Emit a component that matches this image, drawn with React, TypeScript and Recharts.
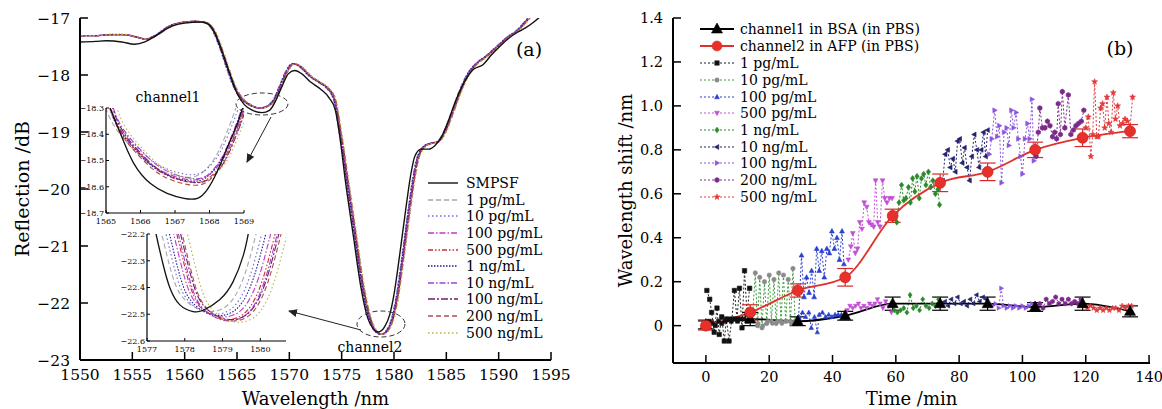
import { ErrorBar, Legend, Line, LineChart, XAxis, YAxis } from 'recharts'

const FONT = '"DejaVu Serif", "Liberation Serif", serif'

type Pt = [number, number]

// ---------------- panel (a): reflection spectra ----------------
const spectraNames = ['SMPSF', '1 pg/mL', '10 pg/mL', '100 pg/mL', '500 pg/mL', '1 ng/mL', '10 ng/mL', '100 ng/mL', '200 ng/mL', '500 ng/mL']

// bare fibre (SMPSF), wavelength nm / reflection dB
const smpsfSpectrum: Pt[] = [
  [1550, -17.42], [1551.5, -17.41], [1552.5, -17.4], [1554, -17.42], [1555.2, -17.46], [1556.2, -17.42],
  [1557, -17.34], [1558, -17.22], [1559, -17.13], [1560, -17.09], [1561.5, -17.07], [1562.3, -17.11],
  [1562.9, -17.27], [1563.6, -17.6], [1564.3, -17.97], [1565, -18.32], [1565.7, -18.52], [1566.5, -18.62],
  [1567.4, -18.66], [1568.1, -18.62], [1568.7, -18.45], [1569.3, -18.2], [1569.9, -17.98], [1570.5, -17.92],
  [1571.2, -17.98], [1572, -18.12], [1573, -18.25], [1573.8, -18.4], [1574.4, -18.62], [1574.8, -19.05],
  [1575.4, -19.92], [1576.1, -20.8], [1576.8, -21.68], [1577.5, -22.27], [1578, -22.45], [1578.5, -22.51],
  [1579.1, -22.42], [1579.6, -22.2], [1580, -21.85], [1580.4, -21.35], [1580.8, -20.8], [1581.2, -20.25],
  [1581.6, -19.75], [1582, -19.42], [1582.6, -19.3], [1583.3, -19.3], [1583.9, -19.24], [1584.5, -19.1],
  [1585.1, -18.85], [1585.9, -18.45], [1586.8, -18.1], [1587.6, -17.9], [1588.5, -17.82], [1589.3, -17.65],
  [1590.1, -17.5], [1591, -17.35], [1591.8, -17.25], [1592.6, -17.17], [1593.3, -17.08], [1594, -16.97],
]

// functionalised sensor spectrum (all concentration curves share this shape)
const sensorSpectrum: Pt[] = [
  [1550, -17.31], [1551.5, -17.31], [1553, -17.29], [1554.2, -17.29], [1555.3, -17.33], [1556.3, -17.37],
  [1557.3, -17.3], [1558.5, -17.15], [1559.7, -17.08], [1561, -17.06], [1562, -17.08], [1562.7, -17.2],
  [1563.4, -17.5], [1564.1, -17.88], [1564.8, -18.22], [1565.5, -18.42], [1566.3, -18.53], [1567.2, -18.58],
  [1568, -18.54], [1568.6, -18.42], [1569.2, -18.17], [1569.8, -17.92], [1570.4, -17.8], [1571.1, -17.86],
  [1572, -18.02], [1572.9, -18.13], [1573.7, -18.24], [1574.3, -18.42], [1574.9, -19.04], [1575.6, -19.92],
  [1576.3, -20.8], [1577, -21.68], [1577.7, -22.27], [1578.2, -22.48], [1578.8, -22.55], [1579.4, -22.47],
  [1579.9, -22.25], [1580.3, -21.9], [1580.7, -21.4], [1581.1, -20.85], [1581.5, -20.3], [1581.9, -19.8],
  [1582.3, -19.45], [1582.8, -19.27], [1583.5, -19.2], [1584.2, -19.17], [1584.9, -18.98], [1585.5, -18.7],
  [1586.3, -18.3], [1587.1, -17.98], [1587.9, -17.8], [1588.9, -17.66], [1590, -17.48], [1591, -17.32],
  [1591.8, -17.22], [1592.5, -17.08], [1593.1, -16.96],
]

// wavelength shift of each concentration curve (nm), main plot
const concShiftMain = [-0.12, -0.08, -0.04, 0, -0.06, 0.03, 0.06, 0.09, 0.14]

// channel1 inset
const ch1InsetSmpsf: Pt[] = [
  [1565, -18.25], [1565.12, -18.3], [1565.41, -18.395], [1565.8, -18.51], [1566.28, -18.587], [1566.77, -18.625],
  [1567.26, -18.644], [1567.65, -18.644], [1567.94, -18.61], [1568.23, -18.54], [1568.52, -18.45],
  [1568.81, -18.36], [1568.96, -18.3], [1569.05, -18.26],
]
const ch1InsetSensor: Pt[] = [
  [1564.95, -18.22], [1565.2, -18.33], [1565.5, -18.4], [1565.8, -18.447], [1566.28, -18.51], [1566.77, -18.55],
  [1567.26, -18.57], [1567.75, -18.57], [1568.14, -18.53], [1568.43, -18.47], [1568.72, -18.38],
  [1568.91, -18.31], [1569.05, -18.24],
]
const ch1InsetDx = [-0.15, -0.05, 0.0, 0.05, 0.0, 0.08, 0.1, 0.05, 0.2]
const ch1InsetDy = [0.01, 0.02, 0.0, -0.01, -0.005, 0.005, -0.01, -0.02, 0.0]

// channel2 inset
const ch2InsetSmpsf: Pt[] = [
  [1577.18, -22.15], [1577.24, -22.2], [1577.43, -22.316], [1577.61, -22.403], [1577.87, -22.465],
  [1578.22, -22.49], [1578.49, -22.485], [1578.93, -22.445], [1579.28, -22.378], [1579.55, -22.28],
  [1579.68, -22.2], [1579.75, -22.15],
]
const ch2InsetSensor: Pt[] = [
  [1577.7, -22.15], [1577.79, -22.2], [1578.05, -22.35], [1578.31, -22.45], [1578.67, -22.5], [1579.1, -22.52],
  [1579.55, -22.5], [1579.9, -22.43], [1580.17, -22.32], [1580.39, -22.2], [1580.5, -22.14],
]
const ch2InsetDx = [-0.45, -0.32, -0.1, 0.0, -0.22, 0.05, 0.1, 0.15, 0.3]
const ch2InsetDy = [0.03, 0.02, 0.01, 0.0, 0.015, -0.005, 0.0, -0.005, -0.01]

const waveTicks = [1550, 1555, 1560, 1565, 1570, 1575, 1580, 1585, 1590, 1595]
const reflTicks = [-23, -22, -21, -20, -19, -18, -17]
const ch1WaveTicks = [1565, 1566, 1567, 1568, 1569]
const ch1ReflTicks = [-18.7, -18.6, -18.5, -18.4, -18.3]
const ch2WaveTicks = [1577, 1578, 1579, 1580]
const ch2ReflTicks = [-22.6, -22.5, -22.4, -22.3, -22.2]

const spectraStyle = [
  { color: '#111111', dash: undefined as string | undefined, width: 1.4 },
  { color: '#a8a8a8', dash: '5 3', width: 1.2 },
  { color: '#6b6bd6', dash: '1.5 2.5', width: 1.3 },
  { color: '#c23ac4', dash: '6 2 1.5 2', width: 1.2 },
  { color: '#d12a2a', dash: '5 2 1.5 2 1.5 2', width: 1.2 },
  { color: '#1f1f95', dash: '1.5 1.5', width: 1.4 },
  { color: '#9a44d2', dash: '6 2 1.5 2', width: 1.2 },
  { color: '#6e1d72', dash: '7 2 2 2', width: 1.2 },
  { color: '#b24c4c', dash: '5 3', width: 1.2 },
  { color: '#b9b247', dash: '1.5 2.5', width: 1.3 },
]

// ---------------- panel (b): wavelength shift vs time ----------------
const times = [0, 14, 29, 44, 59, 74, 89, 104, 119, 134]
const bsaShift = [0.005, 0.03, 0.02, 0.045, 0.1, 0.1, 0.1, 0.085, 0.1, 0.065]
const bsaErr = [0.02, 0.03, 0.02, 0.02, 0.03, 0.03, 0.03, 0.02, 0.03, 0.025]
const afpShift = [0.0, 0.06, 0.16, 0.22, 0.5, 0.65, 0.7, 0.8, 0.855, 0.885]
const afpErr = [0.02, 0.035, 0.03, 0.04, 0.03, 0.04, 0.04, 0.035, 0.04, 0.03]

const concNames = ['1 pg/mL', '10 pg/mL', '100 pg/mL', '500 pg/mL', '1 ng/mL', '10 ng/mL', '100 ng/mL', '200 ng/mL', '500 ng/mL']

// channel2 responses while each concentration flows (min, nm)
const resp1pg: Pt[] = [[0.3, 0.16], [1.2, 0.12], [1.8, 0.06], [2.6, -0.03], [3.5, 0.08], [4.2, -0.04], [5, 0.04], [5.8, -0.07], [6.5, 0.03], [7.3, -0.07], [8.2, 0.03], [9, 0.16], [9.8, 0.03], [10.6, 0.17], [11.4, -0.01], [12.2, 0.25], [13, 0.05], [13.8, 0.17]]
const resp10pg: Pt[] = [[14.8, 0.06], [15.6, 0.24], [16.3, 0.0], [17, 0.22], [17.7, -0.01], [18.5, 0.2], [19.2, 0.01], [20, 0.23], [20.7, 0.02], [21.5, 0.21], [22.2, 0.01], [23, 0.24], [23.7, 0.02], [24.5, 0.23], [25.2, 0.02], [26, 0.21], [26.7, 0.02], [27.5, 0.26], [28.2, 0.02]]
const resp100pg: Pt[] = [[29.3, 0.04], [30.2, 0.32], [31, 0.13], [31.8, 0.22], [32.6, 0.15], [33.4, 0.25], [34.2, 0.13], [35, 0.35], [35.8, 0.25], [36.6, 0.34], [37.4, 0.22], [38.2, 0.35], [39, 0.33], [39.8, 0.43], [40.6, 0.35], [41.4, 0.4], [42.2, 0.3], [43, 0.43], [43.6, 0.28]]
const resp500pg: Pt[] = [[45, 0.3], [45.8, 0.36], [46.4, 0.42], [47.2, 0.33], [47.9, 0.35], [48.6, 0.47], [49.3, 0.44], [50, 0.56], [50.8, 0.54], [51.5, 0.47], [52.2, 0.46], [53, 0.45], [53.6, 0.66], [54.3, 0.47], [55, 0.45], [55.8, 0.66], [56.5, 0.58], [57.2, 0.56], [58, 0.58], [58.8, 0.58]]
const resp1ng: Pt[] = [[59.5, 0.5], [60.3, 0.47], [61, 0.56], [61.8, 0.64], [62.5, 0.57], [63.2, 0.58], [64, 0.63], [64.6, 0.56], [65.3, 0.67], [66, 0.61], [66.7, 0.68], [67.4, 0.58], [68.1, 0.67], [68.8, 0.69], [69.5, 0.64], [70.3, 0.7], [71, 0.63], [71.7, 0.66], [72.5, 0.6], [73.3, 0.62], [73.8, 0.55]]
const resp10ng: Pt[] = [[74.8, 0.66], [75.6, 0.78], [76.4, 0.8], [77.2, 0.72], [78, 0.76], [78.8, 0.7], [79.5, 0.84], [80.2, 0.85], [81, 0.74], [81.7, 0.81], [82.5, 0.72], [83.3, 0.66], [84, 0.77], [84.8, 0.87], [85.6, 0.8], [86.3, 0.72], [87, 0.8], [87.7, 0.88], [88.4, 0.77], [89, 0.89]]
const resp100ng: Pt[] = [[89.5, 0.78], [90.3, 0.85], [91.2, 0.98], [92, 0.86], [92.7, 0.91], [93.4, 0.65], [94.2, 0.88], [95, 0.9], [95.7, 0.82], [96.5, 0.98], [97.2, 0.9], [98, 0.97], [98.7, 0.85], [99.4, 0.77], [100, 0.69], [100.8, 0.85], [101.6, 0.92], [102.3, 0.85], [103, 1.03], [103.6, 0.75]]
const resp200ng: Pt[] = [[104.3, 0.77], [105, 0.88], [105.5, 0.99], [106.3, 0.9], [107.1, 0.9], [107.9, 0.93], [108.7, 0.91], [109.5, 0.86], [110.2, 0.88], [110.8, 0.85], [111.3, 1.01], [112, 0.87], [112.6, 1.065], [113.4, 0.9], [114.5, 1.05], [115.3, 0.87], [116.1, 0.89], [116.9, 0.91], [117.7, 0.92], [118.6, 0.93], [119.4, 0.98]]
const resp500ng: Pt[] = [[120, 0.9], [120.8, 0.95], [121.6, 0.77], [122.2, 0.87], [122.8, 1.11], [123.5, 0.86], [124, 0.86], [124.7, 0.99], [125.3, 1.01], [126, 0.9], [126.7, 1.04], [127.3, 0.92], [128, 0.88], [128.7, 1.06], [129.4, 0.94], [130.1, 1.0], [130.8, 0.91], [131.6, 0.92], [132.4, 0.94], [133.2, 0.93], [134, 0.9], [134.8, 1.04]]

// channel1 (reference) readings during the same injections
const ref1pg: Pt[] = [[0, 0.0], [1, 0.02], [2, 0.01], [3, 0.0], [4, 0.02], [5, 0.01], [6, 0.02], [7, 0.03], [8, 0.02], [9, 0.03], [10, 0.02], [11, 0.03], [12, 0.03], [13, 0.02], [14, 0.03]]
const ref10pg: Pt[] = [[15, 0.02], [16.5, 0.01], [18, 0.0], [19.5, 0.02], [21, 0.01], [22.5, 0.02], [24, 0.01], [25.5, 0.02], [27, 0.01], [28.5, 0.02]]
const ref100pg: Pt[] = [[29.5, 0.03], [30.5, 0.06], [31.5, 0.04], [32.5, 0.06], [33.3, -0.01], [34.3, 0.04], [35.2, -0.03], [35.8, 0.05], [36.8, 0.06], [37.8, 0.04], [38.8, 0.05], [39.8, 0.04], [40.8, 0.05], [41.8, 0.05], [42.8, 0.05], [43.6, 0.04]]
const ref500pg: Pt[] = [[44.6, 0.07], [45.5, 0.09], [46.4, 0.08], [47.3, 0.09], [48.2, 0.1], [49, 0.08], [49.9, 0.09], [50.8, 0.08], [51.7, 0.1], [52.6, 0.09], [53.4, 0.1], [54.2, 0.12], [55, 0.1], [55.9, 0.08], [56.8, 0.11], [57.7, 0.09], [58.6, 0.06]]
const ref1ng: Pt[] = [[59.5, 0.07], [60.5, 0.06], [61.5, 0.07], [62.5, 0.08], [63.5, 0.06], [64.5, 0.14], [65.5, 0.08], [66.5, 0.09], [67.5, 0.07], [68.5, 0.12], [69.5, 0.09], [70.5, 0.08], [71.5, 0.1], [72.5, 0.09], [73.5, 0.12]]
const ref10ng: Pt[] = [[74.5, 0.1], [75.5, 0.11], [76.5, 0.09], [77.5, 0.12], [78.5, 0.1], [79.5, 0.13], [80.5, 0.1], [81.5, 0.11], [82.5, 0.09], [83.5, 0.12], [84.5, 0.1], [85.5, 0.14], [86.5, 0.11], [87.5, 0.13], [88.5, 0.12]]
const ref100ng: Pt[] = [[89.5, 0.1], [90.5, 0.09], [91.5, 0.1], [92.5, 0.08], [93.3, 0.17], [94, 0.09], [95, 0.08], [96, 0.09], [97, 0.08], [98, 0.09], [99, 0.08], [100, 0.09], [101, 0.08], [102, 0.09], [103, 0.1]]
const ref200ng: Pt[] = [[104.5, 0.09], [105.5, 0.1], [106.5, 0.08], [107.5, 0.12], [108.5, 0.1], [109.5, 0.11], [110.5, 0.13], [111.5, 0.1], [112.5, 0.12], [113.5, 0.1], [114.5, 0.12], [115.5, 0.1], [116.5, 0.11], [117.5, 0.1], [118.5, 0.12]]
const ref500ng: Pt[] = [[119.5, 0.09], [120.5, 0.08], [121.5, 0.09], [122.5, 0.08], [123.5, 0.07], [124.5, 0.08], [125.5, 0.07], [126.5, 0.08], [127.5, 0.07], [128.5, 0.08], [129.5, 0.08], [130.5, 0.07], [131.5, 0.09], [132.5, 0.08], [133.5, 0.09], [134.5, 0.09]]

const concResp = [resp1pg, resp10pg, resp100pg, resp500pg, resp1ng, resp10ng, resp100ng, resp200ng, resp500ng]
const concRef = [ref1pg, ref10pg, ref100pg, ref500pg, ref1ng, ref10ng, ref100ng, ref200ng, ref500ng]

const timeTicks = [0, 20, 40, 60, 80, 100, 120, 140]
const shiftTicks = [0, 0.2, 0.4, 0.6, 0.8, 1.0, 1.2, 1.4]

const concStyle = [
  { line: '#222222', fill: '#111111', shape: 'square' },
  { line: '#3c9a3c', fill: '#8a8a8a', shape: 'circle' },
  { line: '#2b3fd0', fill: '#2b3fd0', shape: 'up' },
  { line: '#c24fd6', fill: '#c24fd6', shape: 'down' },
  { line: '#2a8a2a', fill: '#2a8a2a', shape: 'diamond' },
  { line: '#23236e', fill: '#23236e', shape: 'left' },
  { line: '#8b55e0', fill: '#8b55e0', shape: 'right' },
  { line: '#7b2a8c', fill: '#7b2a8c', shape: 'hex' },
  { line: '#e23a3a', fill: '#e23a3a', shape: 'star' },
]

// ---------------- helpers ----------------
const toRows = (pts: Pt[], dx = 0, dy = 0) => pts.map(([x, y]) => ({ x: x + dx, y: y + dy }))
const fmt = (v: number, d: number) => v.toFixed(d).replace('-', '\u2212')

function polygon(cx: number, cy: number, n: number, r: number, inner?: number) {
  const pts: string[] = []
  const count = inner ? n * 2 : n
  for (let i = 0; i < count; i++) {
    const a = -Math.PI / 2 + (i * 2 * Math.PI) / count
    const rr = inner && i % 2 === 1 ? inner : r
    pts.push(`${cx + rr * Math.cos(a)},${cy + rr * Math.sin(a)}`)
  }
  return `M${pts.join('L')}Z`
}

function markerPath(shape: string, cx: number, cy: number, s: number) {
  switch (shape) {
    case 'square':
      return `M${cx - s},${cy - s}h${2 * s}v${2 * s}h${-2 * s}Z`
    case 'up':
      return `M${cx},${cy - 1.2 * s}L${cx + 1.1 * s},${cy + 0.8 * s}L${cx - 1.1 * s},${cy + 0.8 * s}Z`
    case 'down':
      return `M${cx},${cy + 1.2 * s}L${cx + 1.1 * s},${cy - 0.8 * s}L${cx - 1.1 * s},${cy - 0.8 * s}Z`
    case 'left':
      return `M${cx - 1.2 * s},${cy}L${cx + 0.8 * s},${cy - 1.1 * s}L${cx + 0.8 * s},${cy + 1.1 * s}Z`
    case 'right':
      return `M${cx + 1.2 * s},${cy}L${cx - 0.8 * s},${cy - 1.1 * s}L${cx - 0.8 * s},${cy + 1.1 * s}Z`
    case 'diamond':
      return `M${cx},${cy - 1.3 * s}L${cx + s},${cy}L${cx},${cy + 1.3 * s}L${cx - s},${cy}Z`
    case 'hex':
      return polygon(cx, cy, 6, 1.15 * s)
    case 'star':
      return polygon(cx, cy, 5, 1.4 * s, 0.6 * s)
    default:
      return `M${cx - s},${cy}a${s},${s} 0 1,0 ${2 * s},0a${s},${s} 0 1,0 ${-2 * s},0Z`
  }
}

const makeDot = (shape: string, fill: string, s: number, stroke?: string) => (p: any) => {
  const { cx, cy, index } = p
  if (cx == null || cy == null) return <g key={`n${index}`} />
  return <path key={`m${index}`} d={markerPath(shape, cx, cy, s)} fill={fill} stroke={stroke || fill} strokeWidth={0.6} />
}

const tickFont = (size: number) => ({ fill: '#000', fontSize: size, fontFamily: FONT })
const frame = { stroke: '#000', strokeWidth: 2 }

// ---------------- panel (a) ----------------
function SpectraLegend() {
  return (
    <div style={{ fontFamily: FONT, fontSize: 14, color: '#000' }}>
      {spectraNames.map((name, i) => (
        <div key={name} style={{ display: 'flex', alignItems: 'center', height: 16.6, whiteSpace: 'nowrap' }}>
          <svg width={36} height={10}>
            <line x1={3} y1={5} x2={33} y2={5} stroke={spectraStyle[i].color} strokeWidth={1.4} strokeDasharray={spectraStyle[i].dash} />
          </svg>
          <span style={{ marginLeft: 5 }}>{name}</span>
        </div>
      ))}
    </div>
  )
}

type InsetProps = {
  left: number
  top: number
  plotW: number
  plotH: number
  xDomain: [number, number]
  yDomain: [number, number]
  xTicks: number[]
  yTicks: number[]
  smpsf: Pt[]
  sensor: Pt[]
  dx: number[]
  dy: number[]
}

function SpectrumInset({ left, top, plotW, plotH, xDomain, yDomain, xTicks, yTicks, smpsf, sensor, dx, dy }: InsetProps) {
  const yw = 32
  const mt = 8
  const mr = 14
  const xh = 20
  const rows = [toRows(smpsf), ...dx.map((d, i) => toRows(sensor, d, dy[i]))]
  const order = [1, 2, 3, 4, 5, 6, 7, 8, 9, 0]
  return (
    <div style={{ position: 'absolute', left: left - yw, top: top - mt }}>
      <div style={{ position: 'absolute', left: yw, top: mt, width: plotW, height: plotH, background: '#fff' }} />
      <LineChart width={yw + plotW + mr} height={mt + plotH + xh} margin={{ top: mt, right: mr, bottom: 0, left: 0 }} style={{ position: 'relative' }}>
        <XAxis type="number" dataKey="x" domain={xDomain} ticks={xTicks} allowDataOverflow height={xh} tickSize={-3} tickMargin={8}
          axisLine={{ stroke: '#000', strokeWidth: 1.2 }} tickLine={{ stroke: '#000' }} tick={tickFont(8)} interval={0} />
        <XAxis xAxisId="top" orientation="top" type="number" domain={xDomain} height={0} tick={false} tickLine={false} axisLine={{ stroke: '#000', strokeWidth: 1.2 }} />
        <YAxis type="number" domain={yDomain} ticks={yTicks} allowDataOverflow width={yw} tickSize={-3} tickMargin={5}
          axisLine={{ stroke: '#000', strokeWidth: 1.2 }} tickLine={{ stroke: '#000' }} tick={tickFont(8)} tickFormatter={(v: number) => fmt(v, 1)} interval={0} />
        <YAxis yAxisId="right" orientation="right" type="number" domain={yDomain} width={0} tick={false} tickLine={false} axisLine={{ stroke: '#000', strokeWidth: 1.2 }} />
        {order.map((i) => (
          <Line key={i} data={rows[i]} dataKey="y" type="natural" stroke={spectraStyle[i].color} strokeWidth={i === 0 ? 1.3 : 1.1}
            strokeDasharray={spectraStyle[i].dash} dot={false} isAnimationActive={false} />
        ))}
      </LineChart>
    </div>
  )
}

function SpectraPanel() {
  const rows = [toRows(smpsfSpectrum), ...concShiftMain.map((d) => toRows(sensorSpectrum, d))]
  const order = [1, 2, 3, 4, 5, 6, 7, 8, 9, 0]
  return (
    <div style={{ position: 'absolute', left: 0, top: 0, width: 580, height: 409 }}>
      <LineChart width={580} height={409} margin={{ top: 18, right: 29, bottom: 0, left: 0 }}>
        <XAxis type="number" dataKey="x" domain={[1550, 1595]} ticks={waveTicks} allowDataOverflow height={49} tickSize={-8} tickMargin={17}
          axisLine={frame} tickLine={{ stroke: '#000', strokeWidth: 1.5 }} tick={tickFont(15.5)} interval={0}
          label={{ value: 'Wavelength /nm', position: 'insideBottom', offset: 4, fill: '#000', fontSize: 18, fontFamily: FONT }} />
        <XAxis xAxisId="top" orientation="top" type="number" domain={[1550, 1595]} height={0} tick={false} tickLine={false} axisLine={frame} />
        <YAxis type="number" domain={[-23, -17]} ticks={reflTicks} allowDataOverflow width={80} tickSize={-8} tickMargin={18}
          axisLine={frame} tickLine={{ stroke: '#000', strokeWidth: 1.5 }} tick={tickFont(15.5)} tickFormatter={(v: number) => fmt(v, 0)} interval={0}
          label={{ value: 'Reflection /dB', angle: -90, position: 'center', dx: -18, fill: '#000', fontSize: 19, fontFamily: FONT }} />
        <YAxis yAxisId="right" orientation="right" type="number" domain={[-23, -17]} width={0} tick={false} tickLine={false} axisLine={frame} />
        {order.map((i) => (
          <Line key={i} data={rows[i]} dataKey="y" type="monotone" stroke={spectraStyle[i].color} strokeWidth={spectraStyle[i].width}
            strokeDasharray={spectraStyle[i].dash} dot={false} isAnimationActive={false} />
        ))}
        <Legend content={() => <SpectraLegend />} layout="vertical" align="center" verticalAlign="middle"
          wrapperStyle={{ left: 425, top: 175, width: 150 }} />
      </LineChart>
      <SpectrumInset left={106} top={108} plotW={138} plotH={105} xDomain={[1565, 1569]} yDomain={[-18.7, -18.3]}
        xTicks={ch1WaveTicks} yTicks={ch1ReflTicks} smpsf={ch1InsetSmpsf} sensor={ch1InsetSensor} dx={ch1InsetDx} dy={ch1InsetDy} />
      <SpectrumInset left={147} top={234} plotW={139} plotH={107} xDomain={[1577, 1580.68]} yDomain={[-22.6, -22.2]}
        xTicks={ch2WaveTicks} yTicks={ch2ReflTicks} smpsf={ch2InsetSmpsf} sensor={ch2InsetSensor} dx={ch2InsetDx} dy={ch2InsetDy} />
      <svg width={580} height={409} style={{ position: 'absolute', left: 0, top: 0, pointerEvents: 'none' }}>
        <defs>
          <marker id="arrowA" markerWidth="9" markerHeight="8" refX="8" refY="4" orient="auto" markerUnits="userSpaceOnUse">
            <path d="M0,0L9,4L0,8Z" fill="#222" />
          </marker>
        </defs>
        <ellipse cx={262} cy={104} rx={26} ry={11} fill="none" stroke="#333" strokeWidth={1} strokeDasharray="5 3" />
        <line x1={271} y1={117} x2={247} y2={162} stroke="#222" strokeWidth={1} markerEnd="url(#arrowA)" />
        <ellipse cx={381} cy={324} rx={24} ry={13} fill="none" stroke="#333" strokeWidth={1} strokeDasharray="5 3" />
        <line x1={361} y1={330} x2={289} y2={311} stroke="#222" strokeWidth={1} markerEnd="url(#arrowA)" />
        <text x={168} y={102} textAnchor="middle" fontFamily={FONT} fontSize={14} fill="#000">channel1</text>
        <text x={370} y={352} textAnchor="middle" fontFamily={FONT} fontSize={14} fill="#000">channel2</text>
        <text x={529} y={56} textAnchor="middle" fontFamily={FONT} fontSize={19} fill="#000">(a)</text>
      </svg>
    </div>
  )
}

// ---------------- panel (b) ----------------
function LegendSample({ color, dash, shape, fill, size, width }: { color: string; dash?: string; shape: string; fill: string; size: number; width: number }) {
  return (
    <svg width={40} height={14}>
      <line x1={2} y1={7} x2={36} y2={7} stroke={color} strokeWidth={width} strokeDasharray={dash} />
      <path d={markerPath(shape, 19, 7, size)} fill={fill} stroke={fill} strokeWidth={0.6} />
    </svg>
  )
}

function ShiftLegend() {
  const rows = [
    { label: 'channel1 in BSA (in PBS)', sample: <LegendSample color="#000" shape="up" fill="#000" size={5} width={1.8} />, h: 17.5 },
    { label: 'channel2 in AFP (in PBS)', sample: <LegendSample color="#e0302a" shape="circle" fill="#e8302a" size={5} width={1.8} />, h: 17.5 },
    ...concNames.map((name, i) => ({
      label: name,
      sample: <LegendSample color={concStyle[i].line} dash="2 2" shape={concStyle[i].shape} fill={concStyle[i].fill} size={2.2} width={1} />,
      h: 16.7,
    })),
  ]
  return (
    <div style={{ fontFamily: FONT, fontSize: 14, color: '#000' }}>
      {rows.map((r) => (
        <div key={r.label} style={{ display: 'flex', alignItems: 'center', height: r.h, whiteSpace: 'nowrap' }}>
          {r.sample}
          <span style={{ marginLeft: 2 }}>{r.label}</span>
        </div>
      ))}
    </div>
  )
}

function ShiftPanel() {
  const bsaRows = times.map((t, i) => ({ x: t, y: bsaShift[i], e: bsaErr[i] }))
  const afpRows = times.map((t, i) => ({ x: t, y: afpShift[i], e: afpErr[i] }))
  return (
    <div style={{ position: 'absolute', left: 580, top: 0, width: 582, height: 409 }}>
      <LineChart width={582} height={409} margin={{ top: 18, right: 12, bottom: 0, left: 0 }}>
        <XAxis type="number" dataKey="x" domain={[-10.4, 140.3]} ticks={timeTicks} allowDataOverflow height={46} tickSize={-8} tickMargin={17}
          axisLine={frame} tickLine={{ stroke: '#000', strokeWidth: 1.5 }} tick={tickFont(14.5)} interval={0}
          label={{ value: 'Time /min', position: 'insideBottom', offset: 4, fill: '#000', fontSize: 18, fontFamily: FONT }} />
        <XAxis xAxisId="top" orientation="top" type="number" domain={[-10.4, 140.3]} height={0} tick={false} tickLine={false} axisLine={frame} />
        <YAxis type="number" domain={[-0.17, 1.4]} ticks={shiftTicks} allowDataOverflow width={93} tickSize={-8} tickMargin={18}
          axisLine={frame} tickLine={{ stroke: '#000', strokeWidth: 1.5 }} tick={tickFont(14.5)} interval={0}
          tickFormatter={(v: number) => (v === 0 ? '0' : v.toFixed(1))}
          label={{ value: 'Wavelength shift /nm', angle: -90, position: 'center', dx: -1, fill: '#000', fontSize: 18, fontFamily: FONT }} />
        <YAxis yAxisId="right" orientation="right" type="number" domain={[-0.17, 1.4]} width={0} tick={false} tickLine={false} axisLine={frame} />
        {concRef.map((pts, i) => (
          <Line key={`ref${i}`} data={toRows(pts)} dataKey="y" type="linear" stroke={concStyle[i].line} strokeWidth={1}
            strokeDasharray="2 2" dot={makeDot(concStyle[i].shape, concStyle[i].fill, 2)} isAnimationActive={false} />
        ))}
        {concResp.map((pts, i) => (
          <Line key={`resp${i}`} data={toRows(pts)} dataKey="y" type="linear" stroke={concStyle[i].line} strokeWidth={1}
            strokeDasharray="2 2" dot={makeDot(concStyle[i].shape, concStyle[i].fill, 2.2)} isAnimationActive={false} />
        ))}
        <Line data={bsaRows} dataKey="y" type="monotone" stroke="#000" strokeWidth={1.8} dot={makeDot('up', '#000', 5)} isAnimationActive={false}>
          <ErrorBar dataKey="e" direction="y" width={8} stroke="#000" strokeWidth={1.2} />
        </Line>
        <Line data={afpRows} dataKey="y" type="monotone" stroke="#e0302a" strokeWidth={1.8} dot={makeDot('circle', '#e8302a', 5.5, '#c41d1d')} isAnimationActive={false}>
          <ErrorBar dataKey="e" direction="y" width={8} stroke="#d42a2a" strokeWidth={1.2} />
        </Line>
        <Legend content={() => <ShiftLegend />} layout="vertical" align="center" verticalAlign="middle"
          wrapperStyle={{ left: 118, top: 20, width: 240 }} />
      </LineChart>
      <svg width={582} height={409} style={{ position: 'absolute', left: 0, top: 0, pointerEvents: 'none' }}>
        <text x={540} y={55} textAnchor="middle" fontFamily={FONT} fontSize={19} fill="#000">(b)</text>
      </svg>
    </div>
  )
}

export default function App() {
  return (
    <div style={{ position: 'fixed', left: 0, top: 0, width: 1162, height: 409, background: '#fff', overflow: 'hidden' }}>
      <SpectraPanel />
      <ShiftPanel />
    </div>
  )
}
